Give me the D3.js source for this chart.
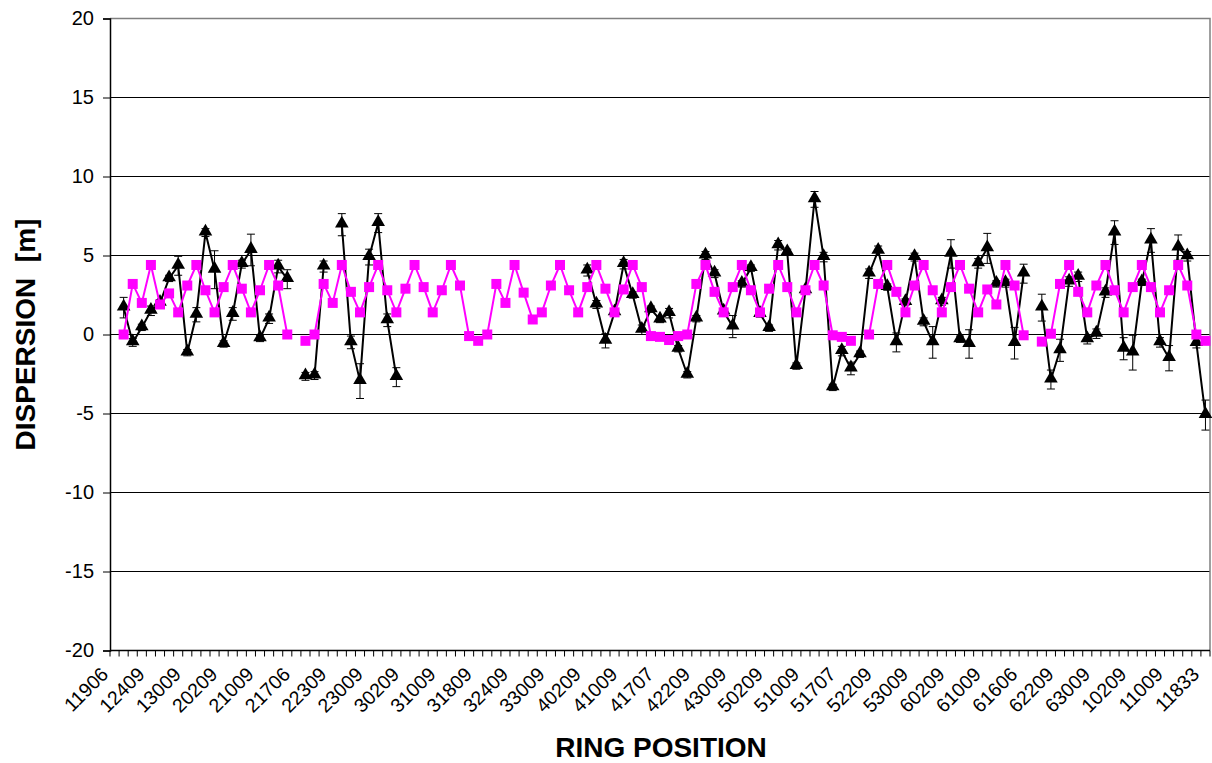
<!DOCTYPE html>
<html>
<head>
<meta charset="utf-8">
<script src="https://cdn.jsdelivr.net/npm/d3@7"></script>
<style>
  html, body { margin: 0; padding: 0; background: #fff; }
  svg { display: block; }
  text { font-family: Arial, "Liberation Sans", sans-serif; }
</style>
</head>
<body>
<svg id="chart" width="1212" height="763"></svg>
<script>
// ---- DATA ----
// x-axis tick labels (one every 4th category)
const tickLabels = ["11906","12409","13009","20209","21009","21706","22309","23009","30209","31009",
  "31809","32409","33009","40209","41009","41707","42209","43009","50209","51009",
  "51707","52209","53009","60209","61009","61606","62209","63009","10209","11009","11833"];
const labelStep = 4;
const categoryCount = 121;

// Measured series (black triangles) with error bars
const measured = [null,
  1.7,-0.5,0.45,1.5,2.0,3.55,4.35,-1.15,1.25,6.45,
  4.1,-0.6,1.3,4.45,5.35,-0.25,1.0,4.3,3.5,null,
  -2.65,-2.6,4.3,null,6.95,-0.5,-2.95,4.9,7.05,0.9,
  -2.7,null,null,null,null,null,null,null,null,null,
  null,null,null,null,null,null,null,null,null,null,
  null,4.05,1.9,-0.4,1.4,4.45,2.5,0.3,1.6,0.95,
  1.35,-0.9,-2.55,1.0,5.0,3.85,1.45,0.5,3.2,4.2,
  1.3,0.4,5.65,5.2,-2.0,2.8,8.55,4.9,-3.35,-1.05,
  -2.15,-1.25,3.85,5.3,3.0,-0.5,2.05,4.9,0.8,-0.5,
  2.1,5.1,-0.3,-0.6,4.5,5.45,3.2,3.25,-0.55,3.85,
  null,1.7,-2.85,-1.0,3.35,3.65,-0.3,0.05,2.65,6.45,
  -0.9,-1.15,3.3,5.95,-0.5,-1.5,5.5,4.95,-0.55,-5.1];
const measuredErr = [0,
  0.65,0.25,0.2,0.3,0.2,0.2,0.6,0.2,0.45,0.25,
  1.2,0.2,0.4,0.25,1.0,0.2,0.3,0.4,0.6,0,
  0.25,0.25,0.35,0,0.7,0.4,1.1,0.5,0.6,0.4,
  0.6,0,0,0,0,0,0,0,0,0,
  0,0,0,0,0,0,0,0,0,0,
  0,0.35,0.25,0.45,0.2,0.3,0.2,0.3,0.2,0.2,
  0.3,0.2,0.2,0.2,0.25,0.25,0.2,0.7,0.2,0.2,
  0.2,0.2,0.3,0.2,0.2,0.2,0.5,0.3,0.2,0.3,
  0.4,0.2,0.3,0.3,0.2,0.6,0.2,0.25,0.25,1.0,
  0.25,0.9,0.2,0.9,0.3,0.95,0.2,0.25,1.0,0.6,
  0,0.85,0.6,0.7,0.3,0.3,0.3,0.3,0.3,0.75,
  0.7,1.1,0.2,0.75,0.3,0.8,0.8,0.3,0.3,0.95];

// Model series (magenta squares)
const model = [null,
  0,3.2,2.0,4.4,1.9,2.6,1.4,3.1,4.4,2.8,
  1.4,3.0,4.4,2.9,1.4,2.8,4.4,3.1,0,null,
  -0.4,0,3.2,2.0,4.4,2.7,1.4,3.0,4.4,2.8,
  1.4,2.9,4.4,3.0,1.4,2.8,4.4,3.1,-0.1,-0.4,
  0,3.2,2.0,4.4,2.65,0.95,1.4,3.1,4.4,2.8,
  1.4,3.0,4.4,2.9,1.4,2.85,4.4,3.0,-0.1,-0.15,
  -0.35,-0.1,0,3.2,4.4,2.7,1.4,3.0,4.4,2.8,
  1.4,2.9,4.4,3.0,1.4,2.8,4.4,3.1,-0.05,-0.15,
  -0.4,null,0,3.2,4.4,2.7,1.4,3.1,4.4,2.8,
  1.4,3.0,4.4,2.9,1.4,2.85,1.9,4.4,3.1,-0.05,
  null,-0.45,0.05,3.2,4.4,2.7,1.4,3.1,4.4,2.8,
  1.4,3.0,4.4,3.0,1.4,2.8,4.4,3.1,0,-0.4];

const yTicks = [-20,-15,-10,-5,0,5,10,15,20];
const yTitle = "DISPERSION  [m]";
const xTitle = "RING POSITION";

// ---- LAYOUT ----
const plot = {left: 110, right: 1210, top: 18.5, bottom: 650.5};
const svg = d3.select("#chart");

const xBand = d3.scaleBand()
  .domain(d3.range(categoryCount))
  .range([plot.left, plot.right])
  .paddingInner(0).paddingOuter(0);
const xc = i => xBand(i) + xBand.bandwidth() / 2;
const y = d3.scaleLinear().domain([-20, 20]).range([plot.bottom, plot.top]);

// gridlines
svg.append("g").selectAll("line").data(yTicks.filter(t => t !== 20)).join("line")
  .attr("x1", plot.left).attr("x2", plot.right)
  .attr("y1", d => y(d)).attr("y2", d => y(d))
  .attr("stroke", "#000").attr("stroke-width", 1);

// plot-area border (top, right) gray
svg.append("path")
  .attr("d", `M${plot.left},${y(20)}H${plot.right}V${plot.bottom}`)
  .attr("fill", "none").attr("stroke", "#808080").attr("stroke-width", 1.5);

// y axis
const yAxis = d3.axisLeft(y).tickValues(yTicks).tickSize(7).tickPadding(9).tickFormat(d => String(d));
const gy = svg.append("g").attr("transform", `translate(${plot.left},0)`).call(yAxis);
gy.select(".domain").attr("stroke", "#000").attr("stroke-width", 1.5);
gy.selectAll(".tick line").attr("stroke", "#000");
gy.selectAll(".tick text").attr("font-size", 20).attr("fill", "#000")
  .attr("font-family", "Arial, 'Liberation Sans', sans-serif");

// x axis: ticks at category boundaries
const boundaries = d3.range(categoryCount + 1);
const gx = svg.append("g");
gx.append("line").attr("x1", plot.left).attr("x2", plot.right)
  .attr("y1", plot.bottom).attr("y2", plot.bottom)
  .attr("stroke", "#000").attr("stroke-width", 1.5);
gx.selectAll("line.tk").data(boundaries).join("line").attr("class", "tk")
  .attr("x1", d => xBand.step() * d + plot.left).attr("x2", d => xBand.step() * d + plot.left)
  .attr("y1", plot.bottom).attr("y2", plot.bottom + 6)
  .attr("stroke", "#000").attr("stroke-width", 1);
gx.selectAll("text").data(tickLabels).join("text")
  .attr("transform", (d, k) => `translate(${xc(k * labelStep) - 5},${plot.bottom + 25}) rotate(-45)`)
  .attr("text-anchor", "end")
  .attr("font-size", 19.5)
  .attr("fill", "#000")
  .text(d => d);

// titles
svg.append("text")
  .attr("transform", `translate(35,${(plot.top + plot.bottom) / 2}) rotate(-90)`)
  .attr("text-anchor", "middle").attr("font-weight", "bold").attr("font-size", 28)
  .attr("xml:space", "preserve").style("white-space", "pre")
  .text(yTitle);
svg.append("text")
  .attr("x", (plot.left + plot.right) / 2 + 1).attr("y", 757)
  .attr("text-anchor", "middle").attr("font-weight", "bold").attr("font-size", 28)
  .text(xTitle);

// series: measured (black)
const idx = d3.range(categoryCount);
const lineM = d3.line().defined(i => measured[i] !== null).x(i => xc(i)).y(i => y(measured[i]));
svg.append("path").datum(idx).attr("d", lineM)
  .attr("fill", "none").attr("stroke", "#000").attr("stroke-width", 2);

const eb = svg.append("g").selectAll("g").data(idx.filter(i => measured[i] !== null)).join("g");
eb.append("line")
  .attr("x1", i => xc(i)).attr("x2", i => xc(i))
  .attr("y1", i => y(measured[i] + measuredErr[i])).attr("y2", i => y(measured[i] - measuredErr[i]))
  .attr("stroke", "#000").attr("stroke-width", 1);
eb.append("line")
  .attr("x1", i => xc(i) - 4).attr("x2", i => xc(i) + 4)
  .attr("y1", i => y(measured[i] + measuredErr[i])).attr("y2", i => y(measured[i] + measuredErr[i]))
  .attr("stroke", "#000").attr("stroke-width", 1);
eb.append("line")
  .attr("x1", i => xc(i) - 4).attr("x2", i => xc(i) + 4)
  .attr("y1", i => y(measured[i] - measuredErr[i])).attr("y2", i => y(measured[i] - measuredErr[i]))
  .attr("stroke", "#000").attr("stroke-width", 1);

const tri = d3.symbol().type(d3.symbolTriangle).size(80);
svg.append("g").selectAll("path").data(idx.filter(i => measured[i] !== null)).join("path")
  .attr("d", tri)
  .attr("transform", i => `translate(${xc(i)},${y(measured[i]) - 1})`)
  .attr("fill", "#000");

// series: model (magenta)
const lineP = d3.line().defined(i => model[i] !== null).x(i => xc(i)).y(i => y(model[i]));
svg.append("path").datum(idx).attr("d", lineP)
  .attr("fill", "none").attr("stroke", "#FF00FF").attr("stroke-width", 2);
svg.append("g").selectAll("rect").data(idx.filter(i => model[i] !== null)).join("rect")
  .attr("x", i => xc(i) - 5).attr("y", i => y(model[i]) - 5)
  .attr("width", 10).attr("height", 10)
  .attr("fill", "#FF00FF");
</script>
</body>
</html>
